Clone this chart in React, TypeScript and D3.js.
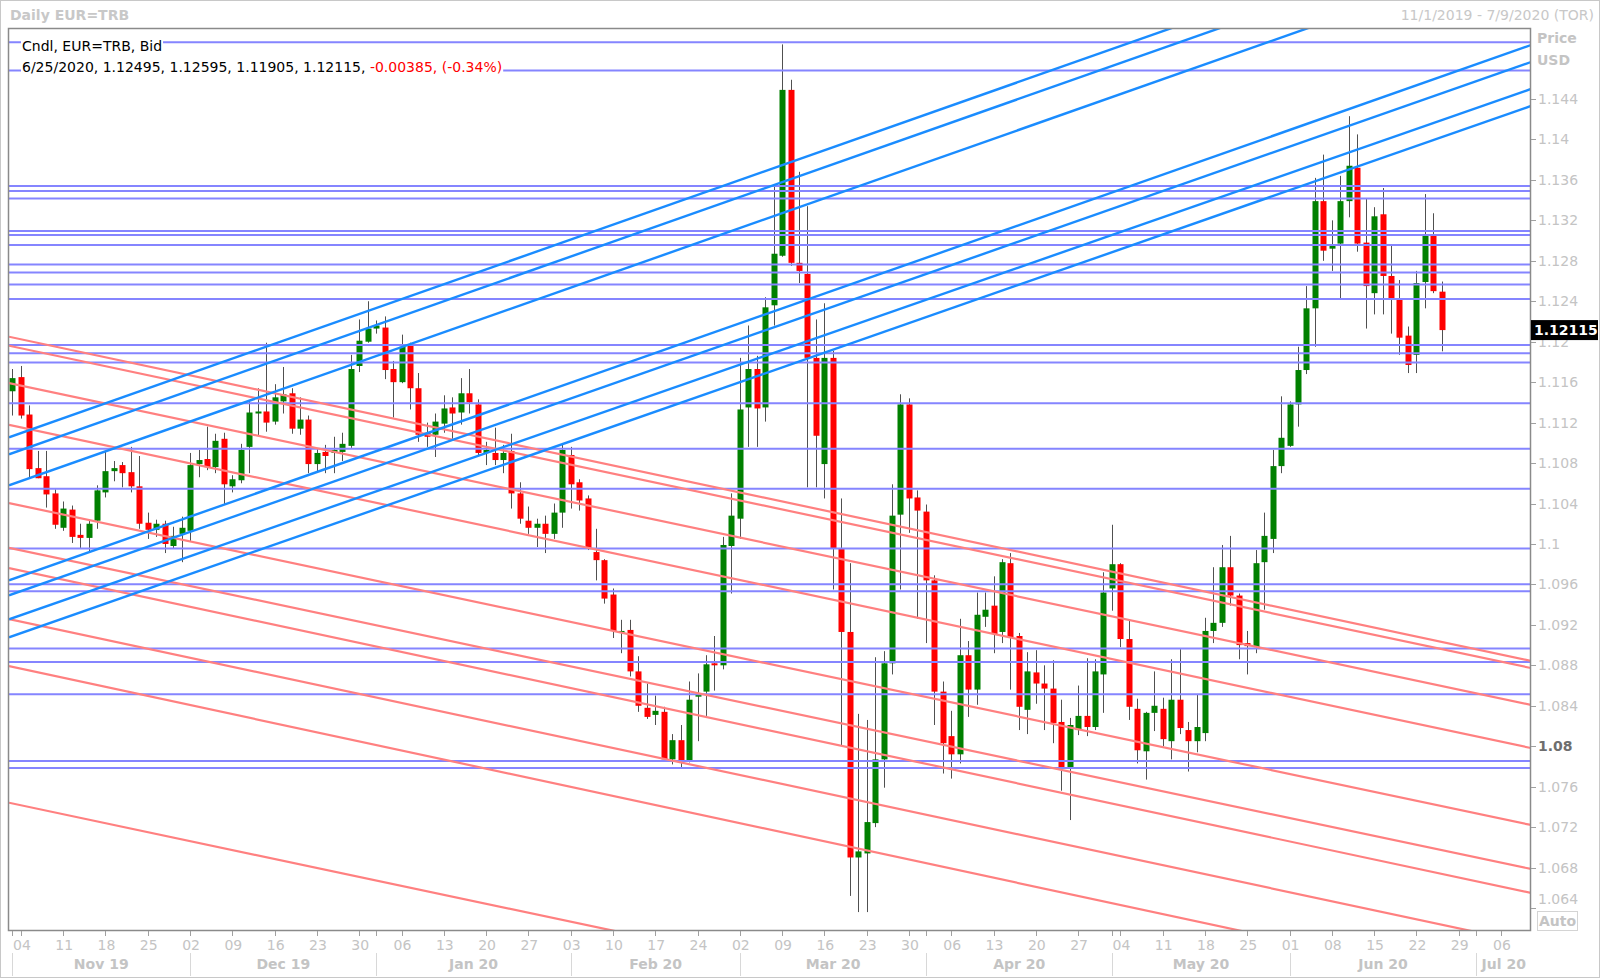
import React, { useEffect, useRef } from 'react';
import * as d3 from 'd3';

// [day, open, high, low, close]
type Bar = [number, number, number, number, number];

const nov19: Bar[] = [
    [1, 1.1151, 1.1173, 1.1127, 1.1164], [4, 1.1165, 1.1176, 1.1124, 1.1127], [5, 1.1128, 1.1137, 1.1066, 1.1074],
    [6, 1.1075, 1.1092, 1.1065, 1.1065], [7, 1.1067, 1.1092, 1.1036, 1.1049], [8, 1.1050, 1.1054, 1.1015, 1.1019],
    [11, 1.1016, 1.1042, 1.1013, 1.1035], [12, 1.1034, 1.1038, 1.1001, 1.1007], [13, 1.1009, 1.1020, 1.0996, 1.1006],
    [14, 1.1006, 1.1023, 1.0992, 1.1020], [15, 1.1023, 1.1058, 1.1015, 1.1053], [18, 1.1051, 1.1091, 1.1046, 1.1072],
    [19, 1.1072, 1.1082, 1.1062, 1.1075], [20, 1.1078, 1.1081, 1.1056, 1.1070], [21, 1.1071, 1.1096, 1.1051, 1.1057],
    [22, 1.1057, 1.1087, 1.1015, 1.1020], [25, 1.1021, 1.1031, 1.1005, 1.1014], [26, 1.1014, 1.1024, 1.1007, 1.1020],
    [27, 1.1020, 1.1023, 1.0991, 1.1000], [28, 1.0998, 1.1017, 1.0996, 1.1008], [29, 1.1010, 1.1027, 1.0982, 1.1016],
];

const dec19: Bar[] = [
    [2, 1.1013, 1.1090, 1.1003, 1.1078], [3, 1.1079, 1.1093, 1.1066, 1.1083], [4, 1.1084, 1.1116, 1.1073, 1.1076],
    [5, 1.1076, 1.1109, 1.1070, 1.1102], [6, 1.1104, 1.1110, 1.1039, 1.1059], [9, 1.1057, 1.1068, 1.1051, 1.1064],
    [10, 1.1063, 1.1099, 1.1060, 1.1093], [11, 1.1096, 1.1142, 1.1070, 1.1130], [12, 1.1129, 1.1154, 1.1107, 1.1131],
    [13, 1.1131, 1.1199, 1.1111, 1.1120], [16, 1.1121, 1.1158, 1.1118, 1.1145], [17, 1.1141, 1.1175, 1.1129, 1.1148],
    [18, 1.1149, 1.1154, 1.1109, 1.1114], [19, 1.1114, 1.1145, 1.1108, 1.1123], [20, 1.1123, 1.1127, 1.1070, 1.1079],
    [23, 1.1079, 1.1094, 1.1071, 1.1090], [24, 1.1091, 1.1098, 1.1070, 1.1087], [25, 1.1090, 1.1106, 1.1070, 1.1093],
    [26, 1.1091, 1.1110, 1.1082, 1.1099], [27, 1.1097, 1.1187, 1.1095, 1.1173], [30, 1.1176, 1.1222, 1.1170, 1.1201],
    [31, 1.1200, 1.1240, 1.1199, 1.1213],
];

const jan20: Bar[] = [
    [1, 1.1213, 1.1221, 1.1208, 1.1216], [2, 1.1214, 1.1225, 1.1163, 1.1172], [3, 1.1173, 1.1181, 1.1125, 1.1160],
    [6, 1.1160, 1.1207, 1.1159, 1.1195], [7, 1.1196, 1.1199, 1.1133, 1.1154], [8, 1.1154, 1.1169, 1.1101, 1.1108],
    [9, 1.1110, 1.1120, 1.1096, 1.1106], [10, 1.1108, 1.1129, 1.1086, 1.1121], [13, 1.1119, 1.1147, 1.1110, 1.1134],
    [14, 1.1135, 1.1145, 1.1104, 1.1129], [15, 1.1130, 1.1164, 1.1118, 1.1149], [16, 1.1149, 1.1173, 1.1129, 1.1140],
    [17, 1.1138, 1.1143, 1.1087, 1.1090], [20, 1.1090, 1.1101, 1.1078, 1.1093], [21, 1.1090, 1.1115, 1.1078, 1.1083],
    [22, 1.1083, 1.1098, 1.1070, 1.1090], [23, 1.1092, 1.1109, 1.1035, 1.1050], [24, 1.1050, 1.1061, 1.1020, 1.1025],
    [27, 1.1023, 1.1037, 1.1010, 1.1016], [28, 1.1016, 1.1025, 1.0997, 1.1020], [29, 1.1020, 1.1028, 1.0991, 1.1010],
    [30, 1.1010, 1.1040, 1.1005, 1.1031], [31, 1.1031, 1.1098, 1.1016, 1.1093],
];

const feb20: Bar[] = [
    [3, 1.1088, 1.1096, 1.1035, 1.1059], [4, 1.1061, 1.1064, 1.1033, 1.1043], [5, 1.1045, 1.1048, 1.0994, 1.0996],
    [6, 1.0992, 1.1015, 1.0964, 1.0984], [7, 1.0984, 1.0985, 1.0941, 1.0946], [10, 1.0950, 1.0956, 1.0907, 1.0914],
    [11, 1.0912, 1.0925, 1.0892, 1.0914], [12, 1.0915, 1.0925, 1.0869, 1.0874], [13, 1.0874, 1.0889, 1.0834, 1.0840],
    [14, 1.0838, 1.0862, 1.0827, 1.0829], [17, 1.0831, 1.0850, 1.0821, 1.0835], [18, 1.0834, 1.0839, 1.0786, 1.0787],
    [19, 1.0787, 1.0812, 1.0782, 1.0806], [20, 1.0806, 1.0821, 1.0779, 1.0786], [21, 1.0786, 1.0864, 1.0784, 1.0846],
    [24, 1.0849, 1.0872, 1.0805, 1.0851], [25, 1.0854, 1.0890, 1.0830, 1.0881], [26, 1.0882, 1.0909, 1.0855, 1.0880],
    [27, 1.0880, 1.1007, 1.0876, 1.0999], [28, 1.0998, 1.1050, 1.0951, 1.1028],
];

const mar20: Bar[] = [
    [2, 1.1025, 1.1184, 1.1005, 1.1133], [3, 1.1135, 1.1216, 1.1096, 1.1173], [4, 1.1173, 1.1186, 1.1096, 1.1134],
    [5, 1.1135, 1.1244, 1.1121, 1.1234], [6, 1.1236, 1.1354, 1.1216, 1.1287], [9, 1.1285, 1.1494, 1.1284, 1.1449],
    [10, 1.1449, 1.1459, 1.1275, 1.1278], [11, 1.1278, 1.1368, 1.1258, 1.1270], [12, 1.1267, 1.1334, 1.1056, 1.1184],
    [13, 1.1184, 1.1222, 1.1056, 1.1107], [16, 1.1079, 1.1238, 1.1045, 1.1184], [17, 1.1184, 1.1191, 1.0955, 1.0996],
    [18, 1.0996, 1.1045, 1.0801, 1.0913], [19, 1.0913, 1.0981, 1.0652, 1.0690], [20, 1.0690, 1.0832, 1.0636, 1.0696],
    [23, 1.0694, 1.0826, 1.0636, 1.0725], [24, 1.0724, 1.0888, 1.0720, 1.0787], [25, 1.0787, 1.0894, 1.0759, 1.0882],
    [26, 1.0882, 1.1059, 1.0871, 1.1028], [27, 1.1029, 1.1148, 1.0955, 1.1138], [30, 1.1138, 1.1144, 1.1011, 1.1045],
    [31, 1.1046, 1.1053, 1.0926, 1.1033],
];

const apr20: Bar[] = [
    [1, 1.1032, 1.1039, 1.0902, 1.0964], [2, 1.0964, 1.0969, 1.0821, 1.0854], [3, 1.0854, 1.0864, 1.0773, 1.0803],
    [6, 1.0810, 1.0835, 1.0768, 1.0792], [7, 1.0792, 1.0926, 1.0783, 1.0890], [8, 1.0890, 1.0904, 1.0829, 1.0856],
    [9, 1.0856, 1.0952, 1.0841, 1.0930], [10, 1.0928, 1.0952, 1.0918, 1.0935], [13, 1.0939, 1.0968, 1.0892, 1.0911],
    [14, 1.0913, 1.0985, 1.0902, 1.0982], [15, 1.0981, 1.0991, 1.0856, 1.0908], [16, 1.0909, 1.0912, 1.0816, 1.0839],
    [17, 1.0836, 1.0893, 1.0812, 1.0874], [20, 1.0873, 1.0895, 1.0842, 1.0862], [21, 1.0862, 1.0880, 1.0816, 1.0857],
    [22, 1.0857, 1.0885, 1.0803, 1.0823], [23, 1.0824, 1.0846, 1.0756, 1.0778], [24, 1.0779, 1.0828, 1.0727, 1.0821],
    [27, 1.0816, 1.0860, 1.0811, 1.0830], [28, 1.0830, 1.0887, 1.0810, 1.0819], [29, 1.0819, 1.0886, 1.0816, 1.0874],
    [30, 1.0871, 1.0972, 1.0833, 1.0952],
];

const may20: Bar[] = [
    [1, 1.0956, 1.1019, 1.0934, 1.0980], [4, 1.0980, 1.0981, 1.0898, 1.0906], [5, 1.0906, 1.0925, 1.0826, 1.0839],
    [6, 1.0837, 1.0847, 1.0783, 1.0796], [7, 1.0795, 1.0834, 1.0767, 1.0833], [8, 1.0833, 1.0874, 1.0815, 1.0840],
    [11, 1.0837, 1.0848, 1.0800, 1.0807], [12, 1.0805, 1.0886, 1.0787, 1.0846], [13, 1.0846, 1.0896, 1.0812, 1.0818],
    [14, 1.0816, 1.0824, 1.0775, 1.0805], [15, 1.0805, 1.0851, 1.0794, 1.0819], [18, 1.0813, 1.0927, 1.0805, 1.0914],
    [19, 1.0914, 1.0977, 1.0902, 1.0922], [20, 1.0922, 1.0999, 1.0918, 1.0977], [21, 1.0977, 1.1008, 1.0939, 1.0949],
    [22, 1.0949, 1.0951, 1.0886, 1.0900], [25, 1.0902, 1.0914, 1.0871, 1.0899], [26, 1.0898, 1.0994, 1.0892, 1.0981],
    [27, 1.0982, 1.1031, 1.0935, 1.1008], [28, 1.1005, 1.1093, 1.0991, 1.1077], [29, 1.1077, 1.1146, 1.1070, 1.1105],
];

const jun20: Bar[] = [
    [1, 1.1097, 1.1141, 1.1096, 1.1138], [2, 1.1138, 1.1195, 1.1116, 1.1172], [3, 1.1172, 1.1255, 1.1168, 1.1233],
    [4, 1.1233, 1.1362, 1.1195, 1.1339], [5, 1.1339, 1.1385, 1.1280, 1.1290], [8, 1.1292, 1.1320, 1.1270, 1.1295],
    [9, 1.1297, 1.1364, 1.1243, 1.1339], [10, 1.1339, 1.1423, 1.1323, 1.1374], [11, 1.1372, 1.1405, 1.1289, 1.1297],
    [12, 1.1298, 1.1342, 1.1213, 1.1255], [15, 1.1248, 1.1333, 1.1227, 1.1324], [16, 1.1326, 1.1352, 1.1227, 1.1265],
    [17, 1.1265, 1.1295, 1.1208, 1.1243], [18, 1.1243, 1.1261, 1.1187, 1.1204], [19, 1.1206, 1.1215, 1.1169, 1.1177],
    [22, 1.1187, 1.1270, 1.1169, 1.1258], [23, 1.1259, 1.1346, 1.1233, 1.1305], [24, 1.1305, 1.1327, 1.1248, 1.1250],
    [25, 1.12495, 1.12595, 1.11905, 1.12115],
];

const months: [string, Bar[]][] = [
    ['2019-11', nov19], ['2019-12', dec19], ['2020-01', jan20], ['2020-02', feb20],
    ['2020-03', mar20], ['2020-04', apr20], ['2020-05', may20], ['2020-06', jun20],
];

// horizontal price levels
const hLevels = [
    1.14961, 1.14681, 1.1354, 1.1349, 1.13416, 1.13095, 1.13055, 1.12956, 1.12764, 1.12684,
    1.12566, 1.12422, 1.11968, 1.11886, 1.11794, 1.11392, 1.10942, 1.10546, 1.09955, 1.09601,
    1.09532, 1.08966, 1.08833, 1.08514, 1.07854, 1.07785,
];

// trendlines: price at lineStart, price at lineEnd
const lineStart = '2019-11-01';
const lineEnd = '2020-07-09';
const blueLines = [
    [1.11067, 1.16336], [1.10899, 1.16168], [1.10592, 1.15861], [1.09653, 1.14917],
    [1.09504, 1.14749], [1.09267, 1.14483], [1.09089, 1.14315],
];
const redLines = [
    [1.12042, 1.08853], [1.11953, 1.08783], [1.11584, 1.08418], [1.11171, 1.07992], [1.10397, 1.07231],
    [1.09955, 1.06796], [1.09754, 1.06559], [1.09249, 1.06057], [1.08785, 1.05568], [1.07434, 1.04265],
];

const priceTicks = [
    1.144, 1.14, 1.136, 1.132, 1.128, 1.124, 1.12, 1.116, 1.112, 1.108, 1.104,
    1.1, 1.096, 1.092, 1.088, 1.084, 1.08, 1.076, 1.072, 1.068, 1.064,
];
const weekLabels = [
    '04', '11', '18', '25', '02', '09', '16', '23', '30', '06', '13', '20', '27', '03', '10', '17', '24', '02',
    '09', '16', '23', '30', '06', '13', '20', '27', '04', '11', '18', '25', '01', '08', '15', '22', '29', '06',
];
const monthLabels = ['Nov 19', 'Dec 19', 'Jan 20', 'Feb 20', 'Mar 20', 'Apr 20', 'May 20', 'Jun 20', 'Jul 20'];

const W = 1600;
const H = 978;
const plot = { left: 9, right: 1531, top: 28, bottom: 931 };
const FONT = '"DejaVu Sans", Verdana, sans-serif';
const GREY = '#c4c4c4';

const App: React.FC = () => {
    const svgRef = useRef<SVGSVGElement>(null);

    useEffect(() => {
        if (!svgRef.current) return;
        const svg = d3.select(svgRef.current);
        svg.selectAll('*').remove();

        const fmt = d3.timeFormat('%Y-%m-%d');
        const days = d3.timeDay
            .range(new Date(2019, 10, 1), new Date(2020, 6, 10))
            .filter(d => d.getDay() % 6 !== 0);
        const idx = new Map(days.map((d, i) => [fmt(d), i]));

        const x = d3.scaleLinear().domain([-0.41, days.length - 1 + 0.55]).range([plot.left, plot.right]);
        const y = d3.scaleLinear().domain([1.06173, 1.15102]).range([plot.bottom, plot.top]);

        const bars = months.flatMap(([ym, list]) =>
            list.map(([day, o, h, l, c]) => ({
                date: `${ym}-${String(day).padStart(2, '0')}`,
                o, h, l, c,
            }))
        );

        svg.append('rect').attr('width', W).attr('height', H).attr('fill', '#fff');
        svg.append('rect')
            .attr('x', 0.5).attr('y', 0.5).attr('width', W - 1).attr('height', H - 1)
            .attr('fill', 'none').attr('stroke', '#c8c8c8');

        svg.append('defs').append('clipPath').attr('id', 'plot-clip')
            .append('rect')
            .attr('x', plot.left).attr('y', plot.top)
            .attr('width', plot.right - plot.left).attr('height', plot.bottom - plot.top);

        // title row
        svg.append('text').attr('x', 10).attr('y', 20)
            .attr('font-family', FONT).attr('font-size', 14).attr('font-weight', 'bold')
            .attr('fill', '#c8c8c8').text('Daily EUR=TRB');
        svg.append('text').attr('x', 1594).attr('y', 20).attr('text-anchor', 'end')
            .attr('font-family', FONT).attr('font-size', 14)
            .attr('fill', '#c8c8c8').text('11/1/2019 - 7/9/2020 (TOR)');

        const g = svg.append('g').attr('clip-path', 'url(#plot-clip)');

        // Candles
        const candles = g.append('g');
        bars.forEach(b => {
            const i = idx.get(b.date);
            if (i === undefined) return;
            const cx = Math.round(x(i));
            const up = b.c >= b.o;
            candles.append('line')
                .attr('x1', cx + 0.5).attr('x2', cx + 0.5)
                .attr('y1', y(b.h)).attr('y2', y(b.l))
                .attr('stroke', '#505050').attr('stroke-width', 1);
            const top = y(Math.max(b.o, b.c));
            const bot = y(Math.min(b.o, b.c));
            candles.append('rect')
                .attr('x', cx - 2.5).attr('width', 6)
                .attr('y', top).attr('height', Math.max(1.2, bot - top))
                .attr('fill', up ? '#008000' : '#ff0000');
        });

        // Horizontal levels
        g.selectAll('.hl').data(hLevels).enter().append('line')
            .attr('x1', plot.left).attr('x2', plot.right)
            .attr('y1', d => y(d)).attr('y2', d => y(d))
            .attr('stroke', '#8585ff').attr('stroke-width', 2);

        const x0 = x(idx.get(lineStart) as number);
        const x1 = x(idx.get(lineEnd) as number);
        const extend = (p: number[]) => {
            const s = (y(p[1]) - y(p[0])) / (x1 - x0);
            return {
                xa: plot.left, ya: y(p[0]) + s * (plot.left - x0),
                xb: plot.right, yb: y(p[0]) + s * (plot.right - x0),
            };
        };

        g.selectAll('.rl').data(redLines.map(extend)).enter().append('line')
            .attr('x1', d => d.xa).attr('y1', d => d.ya).attr('x2', d => d.xb).attr('y2', d => d.yb)
            .attr('stroke', '#ff8080').attr('stroke-width', 2.2);

        g.selectAll('.bl').data(blueLines.map(extend)).enter().append('line')
            .attr('x1', d => d.xa).attr('y1', d => d.ya).attr('x2', d => d.xb).attr('y2', d => d.yb)
            .attr('stroke', '#1a8cff').attr('stroke-width', 2.4);

        // plot frame
        svg.append('rect')
            .attr('x', plot.left - 0.5).attr('y', plot.top + 0.5)
            .attr('width', plot.right - plot.left).attr('height', plot.bottom - plot.top - 1)
            .attr('fill', 'none').attr('stroke', '#8a8a8a').attr('stroke-width', 1.5);

        // Legend
        const last = bars[bars.length - 1];
        const prev = bars[bars.length - 2];
        const chg = last.c - prev.c;
        const [ly, lm, ld] = last.date.split('-').map(Number);
        const f5 = (v: number) => v.toFixed(5);
        const legend = svg.append('g').attr('font-family', FONT).attr('font-size', 14);
        const addLegendLine = (yy: number, parts: [string, string][]) => {
            const bg = legend.append('rect').attr('fill', '#fff');
            const t = legend.append('text').attr('x', 22).attr('y', yy);
            parts.forEach(([txt, col]) => t.append('tspan').attr('fill', col).text(txt));
            const bb = (t.node() as SVGTextElement).getBBox();
            bg.attr('x', bb.x - 1).attr('y', bb.y).attr('width', bb.width + 2).attr('height', bb.height);
        };
        addLegendLine(51, [['Cndl, EUR=TRB, Bid', '#000']]);
        addLegendLine(72, [
            [`${lm}/${ld}/${ly}, ${f5(last.o)}, ${f5(last.h)}, ${f5(last.l)}, ${f5(last.c)}, `, '#000'],
            [`${chg.toFixed(5)}, (${((chg / prev.c) * 100).toFixed(2)}%)`, '#ff0000'],
        ]);

        // Y axis
        const ya = svg.append('g').attr('font-family', FONT).attr('font-size', 14);
        priceTicks.forEach(v => {
            const yy = y(v);
            ya.append('line').attr('x1', plot.right).attr('x2', plot.right + 5)
                .attr('y1', Math.round(yy) + 0.5).attr('y2', Math.round(yy) + 0.5)
                .attr('stroke', '#a0a0a0');
            const bold = v === 1.08;
            ya.append('text').attr('x', plot.right + 7).attr('y', Math.min(yy, 899)).attr('dy', '0.36em')
                .attr('fill', bold ? '#6e6e6e' : GREY).attr('font-weight', bold ? 'bold' : 'normal')
                .text(String(v));
        });
        ya.append('text').attr('x', 1537).attr('y', 43).attr('font-weight', 'bold').attr('fill', GREY).text('Price');
        ya.append('text').attr('x', 1537).attr('y', 65).attr('font-weight', 'bold').attr('fill', GREY).text('USD');

        // last price marker
        const lpY = y(last.c);
        ya.append('rect').attr('x', plot.right).attr('y', lpY - 10).attr('width', 67).attr('height', 20).attr('fill', '#000');
        ya.append('text').attr('x', plot.right + 3).attr('y', lpY).attr('dy', '0.36em')
            .attr('fill', '#fff').attr('font-weight', 'bold').text(f5(last.c));

        // Auto box
        ya.append('rect').attr('x', 1537.5).attr('y', 911.5).attr('width', 40).attr('height', 19)
            .attr('fill', '#fff').attr('stroke', '#d4d4d4');
        ya.append('text').attr('x', 1557.5).attr('y', 921).attr('dy', '0.36em').attr('text-anchor', 'middle')
            .attr('font-weight', 'bold').attr('fill', GREY).text('Auto');

        // X axis
        const xa = svg.append('g').attr('font-family', FONT).attr('font-size', 14);
        const mondays = days.map((d, i) => ({ d, i })).filter(o => o.d.getDay() === 1);
        const monthStarts = days.map((d, i) => ({ d, i })).filter((o, k) => k === 0 || o.d.getMonth() !== days[k - 1].getMonth());

        [...mondays, ...monthStarts].forEach(o => {
            const xx = Math.round(x(o.i)) + 0.5;
            xa.append('line').attr('x1', xx).attr('x2', xx).attr('y1', plot.bottom).attr('y2', plot.bottom + 5)
                .attr('stroke', '#a0a0a0');
        });
        mondays.forEach((o, k) => {
            xa.append('text').attr('x', x(o.i) + 1).attr('y', 950).attr('text-anchor', 'middle')
                .attr('fill', GREY).text(weekLabels[k] ?? '');
        });
        monthStarts.forEach((o, k) => {
            const xs = Math.round(x(o.i)) + 0.5;
            const xe = k + 1 < monthStarts.length ? x(monthStarts[k + 1].i) : plot.right;
            xa.append('line').attr('x1', xs).attr('x2', xs).attr('y1', 953).attr('y2', 976)
                .attr('stroke', '#d8d8d8');
            xa.append('text').attr('x', (xs + xe) / 2).attr('y', 969).attr('text-anchor', 'middle')
                .attr('font-weight', 'bold').attr('fill', GREY).text(monthLabels[k] ?? '');
        });
    }, []);

    return (
        <div style={{ position: 'absolute', left: 0, top: 0 }}>
            <svg ref={svgRef} width={W} height={H} style={{ display: 'block' }}></svg>
        </div>
    );
};

export default App;
